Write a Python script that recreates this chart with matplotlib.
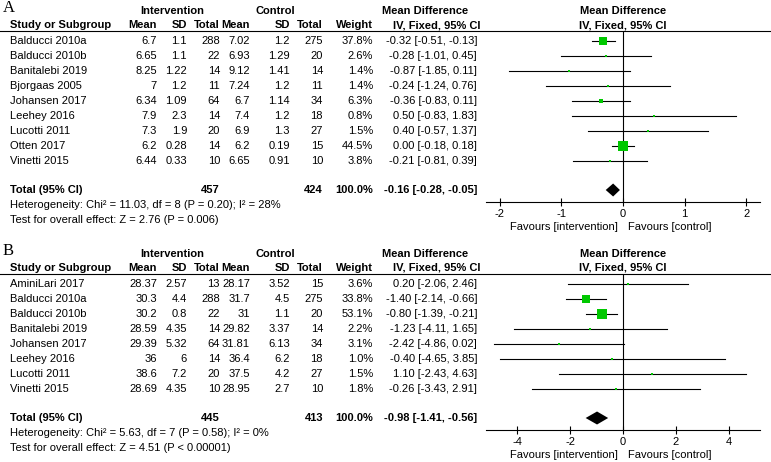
import numpy as np
import matplotlib
matplotlib.use("Agg")
import matplotlib.pyplot as plt

plt.rcParams['font.family'] = ['Liberation Sans', 'DejaVu Sans']
plt.rcParams['axes.unicode_minus'] = False

# panel A data
studies_a = ["Balducci 2010a", "Balducci 2010b", "Banitalebi 2019", "Bjorgaas 2005", "Johansen 2017",
             "Leehey 2016", "Lucotti 2011", "Otten 2017", "Vinetti 2015"]
int_mean_a = [6.7, 6.65, 8.25, 7, 6.34, 7.9, 7.3, 6.2, 6.44]
int_sd_a = [1.1, 1.1, 1.22, 1.2, 1.09, 2.3, 1.9, 0.28, 0.33]
int_n_a = [288, 22, 14, 11, 64, 14, 20, 14, 10]
ctl_mean_a = [7.02, 6.93, 9.12, 7.24, 6.7, 7.4, 6.9, 6.2, 6.65]
ctl_sd_a = [1.2, 1.29, 1.41, 1.2, 1.14, 1.2, 1.3, 0.19, 0.91]
ctl_n_a = [275, 20, 14, 11, 34, 18, 27, 15, 10]
weight_a = [37.8, 2.6, 1.4, 1.4, 6.3, 0.8, 1.5, 44.5, 3.8]
md_a = [-0.32, -0.28, -0.87, -0.24, -0.36, 0.50, 0.40, 0.00, -0.21]
lo_a = [-0.51, -1.01, -1.85, -1.24, -0.83, -0.83, -0.57, -0.18, -0.81]
hi_a = [-0.13, 0.45, 0.11, 0.76, 0.11, 1.83, 1.37, 0.18, 0.39]
total_a = [457, 424, 100.0, -0.16, -0.28, -0.05]
het_a = "Heterogeneity: Chi² = 11.03, df = 8 (P = 0.20); I² = 28%"
test_a = "Test for overall effect: Z = 2.76 (P = 0.006)"
ticks_a = [-2, -1, 0, 1, 2]

# panel B data
studies_b = ["AminiLari 2017", "Balducci 2010a", "Balducci 2010b", "Banitalebi 2019", "Johansen 2017",
             "Leehey 2016", "Lucotti 2011", "Vinetti 2015"]
int_mean_b = [28.37, 30.3, 30.2, 28.59, 29.39, 36, 38.6, 28.69]
int_sd_b = [2.57, 4.4, 0.8, 4.35, 5.32, 6, 7.2, 4.35]
int_n_b = [13, 288, 22, 14, 64, 14, 20, 10]
ctl_mean_b = [28.17, 31.7, 31, 29.82, 31.81, 36.4, 37.5, 28.95]
ctl_sd_b = [3.52, 4.5, 1.1, 3.37, 6.13, 6.2, 4.2, 2.7]
ctl_n_b = [15, 275, 20, 14, 34, 18, 27, 10]
weight_b = [3.6, 33.8, 53.1, 2.2, 3.1, 1.0, 1.5, 1.8]
md_b = [0.20, -1.40, -0.80, -1.23, -2.42, -0.40, 1.10, -0.26]
lo_b = [-2.06, -2.14, -1.39, -4.11, -4.86, -4.65, -2.43, -3.43]
hi_b = [2.46, -0.66, -0.21, 1.65, 0.02, 3.85, 4.63, 2.91]
total_b = [445, 413, 100.0, -0.98, -1.41, -0.56]
het_b = "Heterogeneity: Chi² = 5.63, df = 7 (P = 0.58); I² = 0%"
test_b = "Test for overall effect: Z = 4.51 (P < 0.00001)"
ticks_b = [-4, -2, 0, 2, 4]

W, H = 771, 462
FS = 8
GREEN = '#00c800'

fig = plt.figure(figsize=(W / 100, H / 100), dpi=100)
bg = fig.add_axes([0, 0, 1, 1])
bg.set_xlim(0, W)
bg.set_ylim(H, 0)
bg.axis('off')


def txt(x, y, s, ha='left', bold=False, **kw):
    bg.text(x, y, s, ha=ha, va='center', fontsize=FS,
            fontweight='bold' if bold else 'normal', **kw)


def panel(label, top, studies, im, isd, inn, cm, csd, cn, wt, md, lo, hi, tot, het, test, ticks, lim):
    # column right edges
    cols = [157, 187, 220, 250, 290, 323, 373, 477]
    bg.text(3, top + 8, label, fontsize=12, family='Liberation Serif', va='center')
    txt(172, top + 11, "Intervention", ha='center', bold=True)
    txt(275, top + 11, "Control", ha='center', bold=True)
    txt(425, top + 11, "Mean Difference", ha='center', bold=True)
    txt(623, top + 11, "Mean Difference", ha='center', bold=True)
    y2 = top + 25
    txt(10, y2, "Study or Subgroup", bold=True)
    for x, s in zip(cols[:7], ["Mean", "SD", "Total", "Mean", "SD", "Total", "Weight"]):
        txt(x, y2, s, ha='right', bold=True)
    txt(437, y2, "IV, Fixed, 95% CI", ha='center', bold=True)
    txt(623, y2, "IV, Fixed, 95% CI", ha='center', bold=True)
    line_y = top + 30.5
    bg.plot([0, W], [line_y, line_y], color='black', lw=0.8)

    rows = top + 41 + 15 * np.arange(len(studies))
    for i, y in enumerate(rows):
        txt(10, y, studies[i])
        vals = [f"{im[i]:g}", f"{isd[i]:g}", f"{inn[i]}", f"{cm[i]:g}", f"{csd[i]:g}", f"{cn[i]}",
                f"{wt[i]:.1f}%", f"{md[i]:.2f} [{lo[i]:.2f}, {hi[i]:.2f}]"]
        for x, s in zip(cols, vals):
            txt(x, y, s, ha='right')

    ty = rows[-1] + 29
    txt(10, ty, "Total (95% CI)", bold=True)
    txt(cols[2], ty, f"{tot[0]}", ha='right', bold=True)
    txt(cols[5], ty, f"{tot[1]}", ha='right', bold=True)
    txt(cols[6], ty, f"{tot[2]:.1f}%", ha='right', bold=True)
    txt(cols[7], ty, f"{tot[3]:.2f} [{tot[4]:.2f}, {tot[5]:.2f}]", ha='right', bold=True)
    txt(10, ty + 15, het)
    txt(10, ty + 30, test)

    axis_y = rows[-1] + 41
    x0, x1 = 486, 760
    ax = fig.add_axes([x0 / W, 1 - axis_y / H, (x1 - x0) / W, (axis_y - line_y) / H])
    ax.set_xlim(-lim, lim)
    ax.set_ylim(axis_y, line_y)
    for s in ['top', 'left', 'right']:
        ax.spines[s].set_visible(False)
    ax.spines['bottom'].set_linewidth(0.8)
    ax.patch.set_visible(False)
    ax.set_yticks([])
    ax.set_xticks(ticks)
    ax.tick_params(axis='x', direction='inout', length=6, width=0.8, labelsize=FS, pad=2)
    ax.axvline(0, color='black', lw=0.8)
    for i, y in enumerate(rows):
        ax.plot([lo[i], hi[i]], [y, y], color='black', lw=0.8)
        side = max(1.37 * np.sqrt(wt[i]), 2.2)
        ax.plot(md[i], y, marker='s', ms=side * 0.72, color=GREEN, mec=GREEN, mew=0)
    ax.fill([tot[4], tot[3], tot[5], tot[3]], [ty, ty - 6.5, ty, ty + 6.5], color='black', lw=0)
    txt(618, axis_y + 25, "Favours [intervention]", ha='right')
    txt(628, axis_y + 25, "Favours [control]")


panel("A", 0, studies_a, int_mean_a, int_sd_a, int_n_a, ctl_mean_a, ctl_sd_a, ctl_n_a, weight_a,
      md_a, lo_a, hi_a, total_a, het_a, test_a, ticks_a, 2.22)
panel("B", 243, studies_b, int_mean_b, int_sd_b, int_n_b, ctl_mean_b, ctl_sd_b, ctl_n_b, weight_b,
      md_b, lo_b, hi_b, total_b, het_b, test_b, ticks_b, 5.17)

fig.savefig("out.png", dpi=100)
